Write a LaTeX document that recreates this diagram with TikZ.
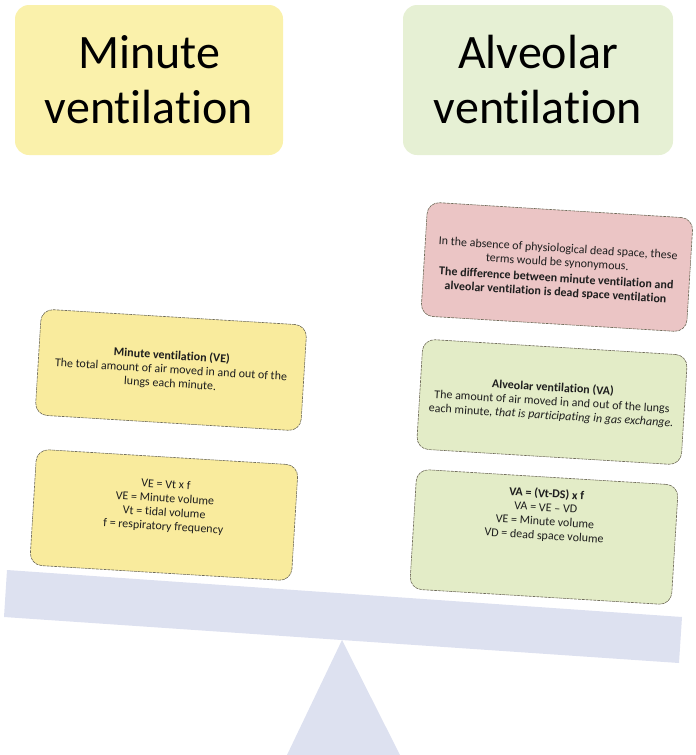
\documentclass[tikz,border=0pt]{standalone}
\usepackage{fontspec}
\setmainfont{Carlito}[Ligatures={NoCommon}]
\definecolor{titleY}{HTML}{FAF1AB}
\definecolor{titleG}{HTML}{E6F0D4}
\definecolor{boxY}{HTML}{F9EB9D}
\definecolor{boxG}{HTML}{E3ECC7}
\definecolor{boxR}{HTML}{EBC5C5}
\definecolor{beamC}{HTML}{DDE1F0}
\definecolor{edgeC}{HTML}{6E6A58}
\definecolor{txt}{HTML}{1E1E1E}
\begin{document}
\begin{tikzpicture}[x=1pt,y=-1pt,
  titlebox/.style={rounded corners=14pt, inner sep=0pt, align=center,
    font=\fontsize{48}{55}\selectfont, text=black},
  card/.style={rounded corners=12pt, draw=edgeC, line width=0.6pt,
    dash pattern=on 3pt off 0.8pt, rotate=-3.5, inner sep=0pt,
    align=center, text=txt,
    font=\fontsize{12}{14}\selectfont}]
\useasboundingbox (0,0) rectangle (696,755);
% balance beam and pivot
\fill[beamC] (7,570) -- (682,617) -- (679,663) -- (4,617) -- cycle;
\fill[beamC] (342,640) -- (400,755) -- (287,755) -- cycle;
% titles
\node[titlebox, fill=titleY, minimum width=268pt, minimum height=150pt] (tMV) at (149,80) {Minute\\ventilation};
\node[titlebox, fill=titleG, minimum width=270pt, minimum height=150pt] (tAV) at (538,80) {Alveolar\\ventilation};
% left cards
\node[card, fill=boxY, minimum width=266pt, minimum height=106pt] (mvdef) at (171,370)
  {\textbf{Minute ventilation (VE)}\\The total amount of air moved in and out of the\\lungs each minute.};
\node[card, fill=boxY, minimum width=262pt, minimum height=116pt] (mvform) at (164,515)
  {VE = Vt x f\\VE = Minute volume\\Vt = tidal volume\\f = respiratory frequency\\[6pt]\mbox{}};
% right cards
\node[card, fill=boxR, minimum width=266pt, minimum height=114pt] (diff) at (557,267)
  {\mbox{}\\[2pt]In the absence of physiological dead space, these\\terms would be synonymous.\\[2pt]
   \textbf{The difference between minute ventilation and}\\\textbf{alveolar ventilation is dead space ventilation}};
\node[card, fill=boxG, minimum width=265pt, minimum height=110pt] (avdef) at (552,402)
  {\textbf{Alveolar ventilation (VA)}\\The amount of air moved in and out of the lungs\\each minute, \textit{that is participating in gas exchange.}};
\node[card, fill=boxG, minimum width=262pt, minimum height=120pt] (avform) at (544,537)
  {\textbf{VA = (Vt-DS) x f}\\VA = VE -- VD\\VE = Minute volume\\VD = dead space volume\\[32pt]\mbox{}};
\end{tikzpicture}
\end{document}
